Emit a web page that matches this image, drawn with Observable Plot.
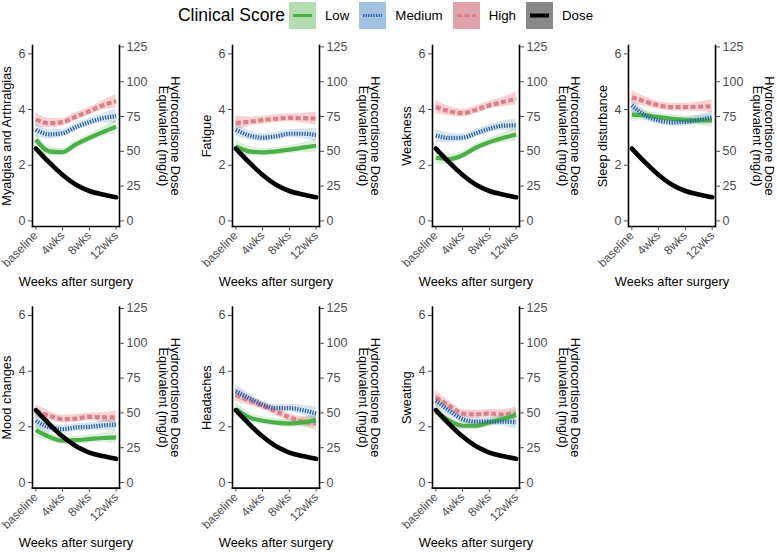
<!DOCTYPE html>
<html><head><meta charset="utf-8">
<script src="https://cdn.jsdelivr.net/npm/d3@7"></script>
<script src="https://cdn.jsdelivr.net/npm/@observablehq/plot@0.6"></script>
<style>
html,body{margin:0;padding:0;background:#fff;}
body{width:777px;height:552px;overflow:hidden;position:relative;font-family:"Liberation Sans",Arial,Helvetica,sans-serif;}
#legend{position:absolute;left:0;top:0;width:777px;height:30px;display:flex;align-items:center;justify-content:center;}
#legend .title{font-size:17.5px;color:#000;margin-right:4px;margin-left:4px;}
#legend .key{width:27px;height:27px;margin-right:9px;display:block;}
#legend .lab{font-size:13.3px;color:#000;margin-right:10px;}
.panel{position:absolute;}
.panel svg{overflow:visible;max-width:none !important;}
</style></head><body>
<div id="legend"></div>
<div id="panels"></div>
<script>
// ---------------- data ----------------
const weeks = [0, 2, 4, 6, 8, 10, 12];
const xTickWeeks = [0, 4, 8, 12];
const xTickLabels = ["baseline", "4wks", "8wks", "12wks"];
const scoreTicks = [0, 2, 4, 6];
const doseTicks = [0, 25, 50, 75, 100, 125];
const doseFactor = 20; // secondary axis: dose (mg/d) = score * 20
const doseMg = [52, 42, 33, 26, 21.5, 19, 17];
const bandHalf = [0.24, 0.17, 0.14, 0.14, 0.14, 0.17, 0.24];
const seriesNames = ["Low", "Medium", "High", "Dose"];
const symptoms = ["Myalgias and Arthralgias", "Fatigue", "Weakness", "Sleep disturbance", "Mood changes", "Headaches", "Sweating"];
const lowScores = [
  [2.92, 2.50, 2.47, 2.75, 2.98, 3.19, 3.39],
  [2.68, 2.50, 2.46, 2.50, 2.56, 2.63, 2.70],
  [2.27, 2.22, 2.36, 2.63, 2.83, 2.98, 3.10],
  [3.82, 3.79, 3.73, 3.67, 3.63, 3.61, 3.61],
  [1.88, 1.64, 1.50, 1.52, 1.56, 1.60, 1.62],
  [2.64, 2.34, 2.22, 2.15, 2.12, 2.16, 2.24],
  [2.55, 2.22, 2.04, 2.04, 2.16, 2.28, 2.43]
];
const mediumScores = [
  [3.27, 3.11, 3.15, 3.37, 3.55, 3.69, 3.76],
  [3.27, 3.07, 2.99, 3.04, 3.13, 3.13, 3.09],
  [3.07, 2.98, 2.99, 3.15, 3.31, 3.42, 3.43],
  [4.15, 3.79, 3.61, 3.54, 3.56, 3.63, 3.71],
  [2.22, 1.98, 1.92, 1.98, 2.00, 2.05, 2.07],
  [3.27, 3.03, 2.79, 2.67, 2.67, 2.60, 2.48],
  [2.94, 2.58, 2.28, 2.19, 2.19, 2.19, 2.16]
];
const highScores = [
  [3.64, 3.51, 3.55, 3.75, 3.94, 4.15, 4.30],
  [3.52, 3.56, 3.62, 3.67, 3.70, 3.69, 3.67],
  [4.09, 3.94, 3.87, 3.99, 4.15, 4.27, 4.39],
  [4.44, 4.29, 4.15, 4.09, 4.09, 4.10, 4.12],
  [2.55, 2.40, 2.28, 2.30, 2.36, 2.34, 2.34],
  [3.15, 2.94, 2.76, 2.55, 2.34, 2.19, 2.12],
  [3.06, 2.76, 2.48, 2.45, 2.48, 2.45, 2.48]
];

// ---------------- styles ----------------
const FONT = '"Liberation Sans", Arial, Helvetica, sans-serif';
const lineColor = {Low: "#4DAF4A", Medium: "#2b5ea7", High: "#d9808b", Dose: "#000"};
const bandColor = {Low: "#4DAF4A", Medium: "#377EB8", High: "#E41A1C"};
const keyBg = {Low: "#b3dcb1", Medium: "#a3c1e0", High: "#e2a2ab", Dose: "#888888"};
const dash = {Low: null, Medium: "1.3,1.3", High: "5,2.5", Dose: null};

// ---------------- legend ----------------
const legend = document.getElementById("legend");
legend.innerHTML = `<span class="title">Clinical Score</span>` + seriesNames.map(s => {
  const lw = s === "Dose" ? 4 : 3;
  return `<svg class="key" viewBox="0 0 27 27"><rect width="27" height="27" fill="${keyBg[s]}"/>` +
    `<line x1="4" x2="23" y1="13.5" y2="13.5" stroke="${lineColor[s]}" stroke-width="${lw}"${dash[s] ? ` stroke-dasharray="${dash[s]}"` : ""}/></svg>` +
    `<span class="lab">${s}</span>`;
}).join("");

// ---------------- panels ----------------
const colX = [32, 231.5, 431.5, 627.5];
const rowTop = [38, 300];
const frameW = 87, frameH = 181;

const container = document.getElementById("panels");
symptoms.forEach((name, i) => {
  const col = i % 4, row = Math.floor(i / 4);
  const rows = [];
  const groups = {Low: lowScores[i], Medium: mediumScores[i], High: highScores[i]};
  for (const s of ["High", "Low", "Medium"]) {
    weeks.forEach((w, j) => rows.push({series: s, week: w, value: groups[s][j], lo: groups[s][j] - bandHalf[j], hi: groups[s][j] + bandHalf[j]}));
  }
  const dose = weeks.map((w, j) => ({week: w, dose: doseMg[j]}));
  const marginTop = row === 0 ? 7 : 6.6;
  const height = row === 0 ? 262 : 252;
  const marginBottom = height - marginTop - frameH;
  const marginLeft = 32, marginRight = 72;
  const width = marginLeft + frameW + marginRight;
  const lineMark = s => Plot.lineY(rows.filter(d => d.series === s), {
    x: "week", y: "value", stroke: lineColor[s], strokeWidth: 4.2, curve: "monotone-x",
    strokeDasharray: dash[s] || undefined, strokeLinecap: "butt"
  });
  const chart = Plot.plot({
    width,
    height,
    marginLeft, marginRight, marginTop, marginBottom,
    x: {domain: [-0.5, 12.5]},
    y: {domain: [-0.2, 6.3]},
    color: {domain: ["Low", "Medium", "High"], range: [bandColor.Low, bandColor.Medium, bandColor.High]},
    style: {fontFamily: FONT, fontSize: "12.3px", color: "#4d4d4d", background: "transparent", overflow: "visible", maxWidth: "none"},
    marks: [
      Plot.areaY(rows, {x: "week", y1: "lo", y2: "hi", z: "series", fill: "series", fillOpacity: 0.2, curve: "monotone-x"}),
      lineMark("High"),
      lineMark("Low"),
      lineMark("Medium"),
      Plot.lineY(dose, {x: "week", y: d => d.dose / doseFactor, stroke: "#000", strokeWidth: 4.6, curve: "monotone-x"}),
      Plot.frame({anchor: "left", stroke: "#000", strokeWidth: 1.6}),
      Plot.frame({anchor: "right", stroke: "#000", strokeWidth: 1.6}),
      Plot.frame({anchor: "bottom", stroke: "#000", strokeWidth: 1.6}),
      Plot.axisY({anchor: "left", ticks: scoreTicks, tickFormat: d => String(d), tickSize: 4, tickPadding: 3, label: null, fontSize: 12.5}),
      Plot.axisY({anchor: "right", ticks: doseTicks.map(d => d / doseFactor), tickFormat: d => String(Math.round(d * doseFactor)), tickSize: 4, tickPadding: 3, label: null, fontSize: 12.5}),
      Plot.axisX({anchor: "bottom", ticks: xTickWeeks, tickFormat: d => xTickLabels[xTickWeeks.indexOf(d)], tickRotate: -45, tickSize: 4, tickPadding: 3, label: null, fontSize: 12}),
      Plot.text([name], {frameAnchor: "left", rotate: -90, dx: -26, fill: "#000", fontSize: 12.8, textAnchor: "middle"}),
      Plot.text(["Hydrocortisone Dose\nEquivalent (mg/d)"], {frameAnchor: "right", rotate: 90, dx: col === 3 ? 47.5 : 49, fill: "#000", fontSize: 12.8, textAnchor: "middle", lineHeight: 0.95}),
      Plot.text(["Weeks after surgery"], {frameAnchor: "bottom", dy: 59, fill: "#000", fontSize: 12.8, textAnchor: "middle"})
    ]
  });
  const div = document.createElement("div");
  div.className = "panel";
  div.style.left = (colX[col] - marginLeft) + "px";
  div.style.top = rowTop[row] + "px";
  div.style.width = width + "px";
  div.style.height = height + "px";
  div.appendChild(chart);
  container.appendChild(div);
});
</script>
</body></html>
